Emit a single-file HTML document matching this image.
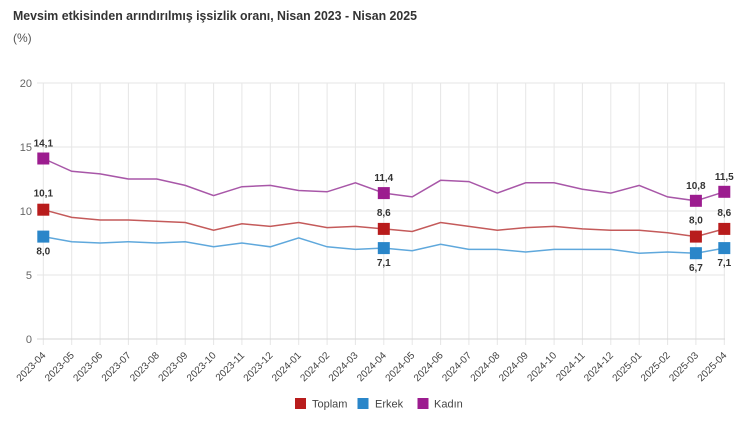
<!DOCTYPE html>
<html><head><meta charset="utf-8">
<style>
html,body{margin:0;padding:0;background:#fff;}
svg{display:block;font-family:"Liberation Sans","DejaVu Sans",sans-serif;}
</style></head>
<body>
<svg width="750" height="422" viewBox="0 0 750 422" xmlns="http://www.w3.org/2000/svg">
<rect width="750" height="422" fill="#fff"/>
<text x="13" y="20" font-size="13" font-weight="bold" fill="#333" textLength="404" lengthAdjust="spacingAndGlyphs">Mevsim etkisinden arındırılmış işsizlik oranı, Nisan 2023 - Nisan 2025</text>
<text x="13" y="42" font-size="12" fill="#555">(%)</text>

<g stroke="#e6e6e6" stroke-width="1">
<line x1="37" y1="83" x2="725" y2="83"/>
<line x1="37" y1="147" x2="725" y2="147"/>
<line x1="37" y1="211" x2="725" y2="211"/>
<line x1="37" y1="275" x2="725" y2="275"/>
</g>
<g stroke="#e6e6e6" stroke-width="1">
<line x1="43.3" y1="83" x2="43.3" y2="345"/>
<line x1="71.7" y1="83" x2="71.7" y2="345"/>
<line x1="100.1" y1="83" x2="100.1" y2="345"/>
<line x1="128.4" y1="83" x2="128.4" y2="345"/>
<line x1="156.8" y1="83" x2="156.8" y2="345"/>
<line x1="185.2" y1="83" x2="185.2" y2="345"/>
<line x1="213.6" y1="83" x2="213.6" y2="345"/>
<line x1="241.9" y1="83" x2="241.9" y2="345"/>
<line x1="270.3" y1="83" x2="270.3" y2="345"/>
<line x1="298.7" y1="83" x2="298.7" y2="345"/>
<line x1="327.1" y1="83" x2="327.1" y2="345"/>
<line x1="355.4" y1="83" x2="355.4" y2="345"/>
<line x1="383.8" y1="83" x2="383.8" y2="345"/>
<line x1="412.2" y1="83" x2="412.2" y2="345"/>
<line x1="440.6" y1="83" x2="440.6" y2="345"/>
<line x1="468.9" y1="83" x2="468.9" y2="345"/>
<line x1="497.3" y1="83" x2="497.3" y2="345"/>
<line x1="525.7" y1="83" x2="525.7" y2="345"/>
<line x1="554.1" y1="83" x2="554.1" y2="345"/>
<line x1="582.4" y1="83" x2="582.4" y2="345"/>
<line x1="610.8" y1="83" x2="610.8" y2="345"/>
<line x1="639.2" y1="83" x2="639.2" y2="345"/>
<line x1="667.6" y1="83" x2="667.6" y2="345"/>
<line x1="695.9" y1="83" x2="695.9" y2="345"/>
<line x1="724.3" y1="83" x2="724.3" y2="345"/>
</g>
<line x1="37" y1="339" x2="725" y2="339" stroke="#d6d6d6" stroke-width="1"/>

<g font-size="11" fill="#666" text-anchor="end">
<text x="32" y="87">20</text>
<text x="32" y="151">15</text>
<text x="32" y="215">10</text>
<text x="32" y="279">5</text>
<text x="32" y="343">0</text>
</g>

<g font-size="10" fill="#444" text-anchor="end">
<text transform="translate(46.3,356) rotate(-45)">2023-04</text>
<text transform="translate(74.7,356) rotate(-45)">2023-05</text>
<text transform="translate(103.1,356) rotate(-45)">2023-06</text>
<text transform="translate(131.4,356) rotate(-45)">2023-07</text>
<text transform="translate(159.8,356) rotate(-45)">2023-08</text>
<text transform="translate(188.2,356) rotate(-45)">2023-09</text>
<text transform="translate(216.6,356) rotate(-45)">2023-10</text>
<text transform="translate(244.9,356) rotate(-45)">2023-11</text>
<text transform="translate(273.3,356) rotate(-45)">2023-12</text>
<text transform="translate(301.7,356) rotate(-45)">2024-01</text>
<text transform="translate(330.1,356) rotate(-45)">2024-02</text>
<text transform="translate(358.4,356) rotate(-45)">2024-03</text>
<text transform="translate(386.8,356) rotate(-45)">2024-04</text>
<text transform="translate(415.2,356) rotate(-45)">2024-05</text>
<text transform="translate(443.6,356) rotate(-45)">2024-06</text>
<text transform="translate(471.9,356) rotate(-45)">2024-07</text>
<text transform="translate(500.3,356) rotate(-45)">2024-08</text>
<text transform="translate(528.7,356) rotate(-45)">2024-09</text>
<text transform="translate(557.1,356) rotate(-45)">2024-10</text>
<text transform="translate(585.4,356) rotate(-45)">2024-11</text>
<text transform="translate(613.8,356) rotate(-45)">2024-12</text>
<text transform="translate(642.2,356) rotate(-45)">2025-01</text>
<text transform="translate(670.6,356) rotate(-45)">2025-02</text>
<text transform="translate(698.9,356) rotate(-45)">2025-03</text>
<text transform="translate(727.3,356) rotate(-45)">2025-04</text>
</g>

<polyline fill="none" stroke="#a857a8" stroke-width="1.5" points="43.3,158.5 71.7,171.3 100.1,173.9 128.4,179.0 156.8,179.0 185.2,185.4 213.6,195.6 241.9,186.7 270.3,185.4 298.7,190.5 327.1,191.8 355.4,182.8 383.8,193.1 412.2,196.9 440.6,180.3 468.9,181.6 497.3,193.1 525.7,182.8 554.1,182.8 582.4,189.2 610.8,193.1 639.2,185.4 667.6,196.9 695.9,200.8 724.3,191.8"/>
<polyline fill="none" stroke="#c45a5a" stroke-width="1.5" points="43.3,209.7 71.7,217.4 100.1,220.0 128.4,220.0 156.8,221.2 185.2,222.5 213.6,230.2 241.9,223.8 270.3,226.4 298.7,222.5 327.1,227.6 355.4,226.4 383.8,228.9 412.2,231.5 440.6,222.5 468.9,226.4 497.3,230.2 525.7,227.6 554.1,226.4 582.4,228.9 610.8,230.2 639.2,230.2 667.6,232.8 695.9,236.6 724.3,228.9"/>
<polyline fill="none" stroke="#5fa8dc" stroke-width="1.5" points="43.3,236.6 71.7,241.7 100.1,243.0 128.4,241.7 156.8,243.0 185.2,241.7 213.6,246.8 241.9,243.0 270.3,246.8 298.7,237.9 327.1,246.8 355.4,249.4 383.8,248.1 412.2,250.7 440.6,244.3 468.9,249.4 497.3,249.4 525.7,252.0 554.1,249.4 582.4,249.4 610.8,249.4 639.2,253.2 667.6,252.0 695.9,253.2 724.3,248.1"/>

<g fill="#9c1c8f">
<rect x="37.3" y="152.5" width="12" height="12"/>
<rect x="377.8" y="187.1" width="12" height="12"/>
<rect x="689.9" y="194.8" width="12" height="12"/>
<rect x="718.3" y="185.8" width="12" height="12"/>
</g>
<g fill="#b81c1c">
<rect x="37.3" y="203.7" width="12" height="12"/>
<rect x="377.8" y="222.9" width="12" height="12"/>
<rect x="689.9" y="230.6" width="12" height="12"/>
<rect x="718.3" y="222.9" width="12" height="12"/>
</g>
<g fill="#2a86c9">
<rect x="37.3" y="230.6" width="12" height="12"/>
<rect x="377.8" y="242.1" width="12" height="12"/>
<rect x="689.9" y="247.2" width="12" height="12"/>
<rect x="718.3" y="242.1" width="12" height="12"/>
</g>

<g font-size="10" font-weight="bold" fill="#333" text-anchor="middle">
<text x="43.3" y="146.5">14,1</text>
<text x="383.8" y="181.1">11,4</text>
<text x="695.9" y="188.8">10,8</text>
<text x="724.3" y="179.8">11,5</text>
<text x="43.3" y="196.7">10,1</text>
<text x="383.8" y="215.9">8,6</text>
<text x="695.9" y="223.6">8,0</text>
<text x="724.3" y="215.9">8,6</text>
<text x="43.3" y="254.6">8,0</text>
<text x="383.8" y="266.1">7,1</text>
<text x="695.9" y="271.2">6,7</text>
<text x="724.3" y="266.1">7,1</text>
</g>

<rect x="295" y="398" width="11" height="11" fill="#b81c1c"/>
<text x="312" y="407.5" font-size="11" fill="#444">Toplam</text>
<rect x="357.5" y="398" width="11" height="11" fill="#2a86c9"/>
<text x="375" y="407.5" font-size="11" fill="#444">Erkek</text>
<rect x="417.5" y="398" width="11" height="11" fill="#9c1c8f"/>
<text x="434" y="407.5" font-size="11" fill="#444">Kadın</text>
</svg>
</body></html>
